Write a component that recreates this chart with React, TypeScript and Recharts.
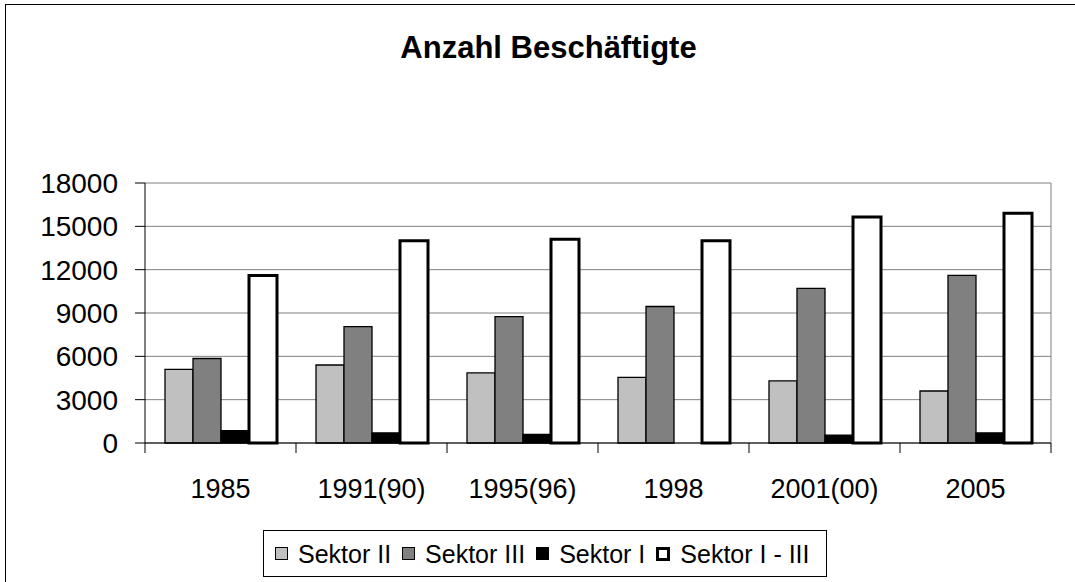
import { BarChart, Bar, XAxis, YAxis, CartesianGrid } from 'recharts';

const years = ['1985', '1991(90)', '1995(96)', '1998', '2001(00)', '2005'];
const sektorII = [5100, 5400, 4850, 4550, 4300, 3600];
const sektorIII = [5850, 8050, 8750, 9450, 10700, 11600];
const sektorI = [850, 700, 600, 0, 550, 700];
const sektorGesamt = [11600, 14000, 14100, 14000, 15650, 15900];
const yTicks = [0, 3000, 6000, 9000, 12000, 15000, 18000];

const data = years.map((year, i) => ({
  year,
  s2: sektorII[i],
  s3: sektorIII[i],
  s1: sektorI[i],
  total: sektorGesamt[i],
}));

const FONT = '"Liberation Sans", Arial, sans-serif';
const W = 1075;
const H = 582;
const MARGIN = { top: 183, right: 24, bottom: 79, left: 0 };
const Y_AXIS_W = 145;
const BAND = (W - MARGIN.left - MARGIN.right - Y_AXIS_W) / years.length;

// Excel setzt die Striche zwischen die Kategorien, nicht in die Mitte
const CategoryTick = (props: any) => {
  const { x, y, payload, index } = props;
  const half = BAND / 2;
  return (
    <g>
      <line x1={x - half} x2={x - half} y1={y} y2={y + 10} stroke="#000" />
      {index === years.length - 1 && (
        <line x1={x + half} x2={x + half} y1={y} y2={y + 10} stroke="#000" />
      )}
      <text x={x} y={y + 55} textAnchor="middle" fill="#000" fontSize={27} fontFamily={FONT}>
        {payload.value}
      </text>
    </g>
  );
};

const legendItems = [
  { label: 'Sektor II', fill: '#c0c0c0', border: 1 },
  { label: 'Sektor III', fill: '#808080', border: 1 },
  { label: 'Sektor I', fill: '#000000', border: 1 },
  { label: 'Sektor I - III', fill: '#ffffff', border: 3 },
];

export default function App() {
  return (
    <div style={{ position: 'absolute', left: 0, top: 0, width: W, height: H, overflow: 'hidden', background: '#fff', fontFamily: FONT }}>
      {/* Rahmen des Diagrammbereichs (rechts/unten abgeschnitten) */}
      <div style={{ position: 'absolute', left: 5, top: 4, width: 1200, height: 700, border: '1px solid #000' }} />

      <div style={{ position: 'absolute', left: 0, width: 1097, top: 32, textAlign: 'center', fontSize: 31, fontWeight: 'bold', lineHeight: '31px', color: '#000' }}>
        Anzahl Beschäftigte
      </div>

      <div style={{ position: 'absolute', left: 0, top: 0 }}>
        <BarChart width={W} height={H} data={data} margin={MARGIN} barCategoryGap={20} barGap={0}>
          <CartesianGrid
            stroke="#808080"
            strokeWidth={1}
            verticalCoordinatesGenerator={({ offset }: any) => [offset.left + offset.width]}
          />
          <XAxis
            dataKey="year"
            height={60}
            axisLine={{ stroke: '#000' }}
            tickLine={false}
            tickSize={0}
            tickMargin={0}
            tick={<CategoryTick />}
            interval={0}
          />
          <YAxis
            width={Y_AXIS_W}
            domain={[0, 18000]}
            ticks={yTicks}
            interval={0}
            axisLine={{ stroke: '#000' }}
            tickLine={{ stroke: '#000' }}
            tickSize={10}
            tickMargin={17}
            tick={{ fill: '#000', fontSize: 28, fontFamily: FONT }}
          />
          <Bar dataKey="s2" name="Sektor II" fill="#c0c0c0" stroke="#000" strokeWidth={1.3} isAnimationActive={false} />
          <Bar dataKey="s3" name="Sektor III" fill="#808080" stroke="#000" strokeWidth={1.3} isAnimationActive={false} />
          <Bar dataKey="s1" name="Sektor I" fill="#000" stroke="#000" strokeWidth={1.3} isAnimationActive={false} />
          <Bar dataKey="total" name="Sektor I - III" fill="#fff" stroke="#000" strokeWidth={3} isAnimationActive={false} />
        </BarChart>
      </div>

      <div
        style={{
          position: 'absolute', left: 263, top: 530, width: 564, height: 47, boxSizing: 'border-box',
          border: '1px solid #000', display: 'flex', alignItems: 'center', paddingLeft: 11,
          fontSize: 25, color: '#000', background: '#fff',
        }}
      >
        {legendItems.map((item, i) => (
          <div key={item.label} style={{ display: 'flex', alignItems: 'center', marginLeft: i === 0 ? 0 : 11 }}>
            <span
              style={{
                display: 'inline-block', boxSizing: 'border-box', width: item.border > 1 ? 14 : 13, height: item.border > 1 ? 14 : 13,
                background: item.fill, border: `${item.border}px solid #000`,
              }}
            />
            <span style={{ marginLeft: 10, lineHeight: '28px' }}>{item.label}</span>
          </div>
        ))}
      </div>
    </div>
  );
}
